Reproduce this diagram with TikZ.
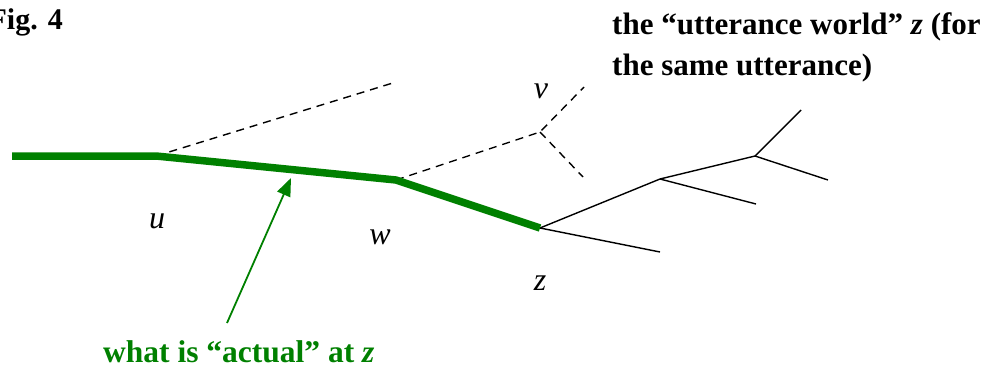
\documentclass[tikz,border=0pt]{standalone}
\usepackage{fontspec}
\setmainfont{Liberation Serif}
\usetikzlibrary{arrows.meta}
\definecolor{dkgreen}{RGB}{0,128,0}
\begin{document}
\begin{tikzpicture}[x=1pt,y=-1pt,
  greenpath/.style={draw=dkgreen,line width=7.5pt,line join=miter},
  dashline/.style={draw=black,line width=1.4pt,dash pattern=on 8pt off 6pt},
  solidline/.style={draw=black,line width=1.4pt},
  pointer/.style={draw=dkgreen,line width=1.8pt,-{Triangle[length=18pt,width=14pt]}},
  lbl/.style={inner sep=0pt,anchor=base,font=\fontsize{32}{36}\selectfont\itshape},
  boldtxt/.style={inner sep=0pt,anchor=base west,font=\fontsize{31}{36}\selectfont\bfseries}
]
\useasboundingbox (0,0) rectangle (994,370);
% vertices
\coordinate (a) at (12,156);
\coordinate (u) at (156,156);
\coordinate (w) at (396,180);
\coordinate (z) at (540,228);
\coordinate (d1) at (396,82);
\coordinate (v) at (540,132);
\coordinate (v1) at (584,87);
\coordinate (v2) at (583,177);
\coordinate (p) at (660,179);
\coordinate (p1) at (660,252);
\coordinate (q) at (755,156);
\coordinate (q1) at (756,204);
\coordinate (r1) at (801,110);
\coordinate (r2) at (828,180);
\coordinate (arS) at (227,323);
\coordinate (arE) at (291,178);
% dashed branches
\draw[dashline] (u) -- (d1);
\draw[dashline] (w) -- (v) -- (v1);
\draw[dashline] (v) -- (v2);
% solid tree
\draw[solidline] (z) -- (p) -- (q) -- (r1);
\draw[solidline] (z) -- (p1);
\draw[solidline] (p) -- (q1);
\draw[solidline] (q) -- (r2);
% green path
\draw[greenpath] (a) -- (u) -- (w) -- (z);
% arrow
\draw[pointer] (arS) -- (arE);
% labels
\node[lbl] (lu) at (157,228) {u};
\node[lbl] (lw) at (380,244) {w};
\node[lbl] (lz) at (540,290) {z};
\node[lbl] (lv) at (541,98) {v};
\node[inner sep=0pt,anchor=base east,font=\fontsize{30}{34}\selectfont\bfseries] (fig) at (63,29) {Fig. 4};
\node[boldtxt] (t1) at (612,34) {the “utterance world” \textit{z} (for};
\node[boldtxt] (t2) at (612,75) {the same utterance)};
\node[boldtxt,text=dkgreen,font=\fontsize{31.5}{36}\selectfont\bfseries] (act) at (103,362) {what is “actual” at \textit{z}};
\end{tikzpicture}
\end{document}
